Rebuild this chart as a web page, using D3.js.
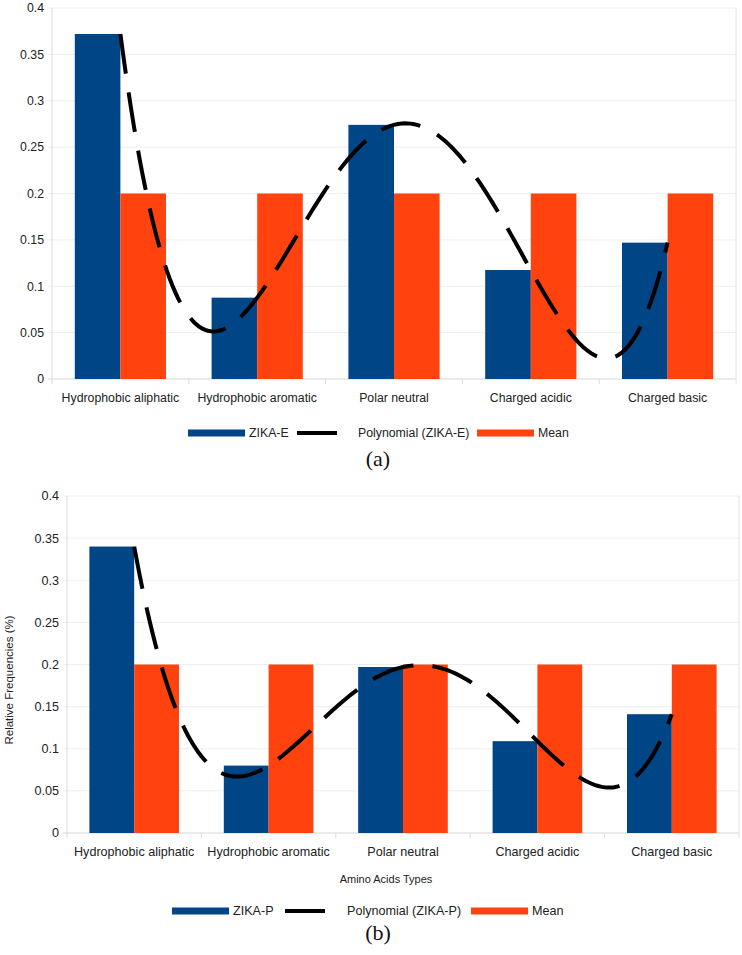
<!DOCTYPE html>
<html>
<head>
<meta charset="utf-8">
<script src="https://cdn.jsdelivr.net/npm/d3@7"></script>
<style>
  html, body { margin: 0; padding: 0; background: #fff; }
  svg { display: block; }
</style>
</head>
<body>
<svg id="chart" width="742" height="955"></svg>
<script>
// ---------- data ----------
const categories = ["Hydrophobic aliphatic", "Hydrophobic aromatic", "Polar neutral", "Charged acidic", "Charged basic"];
const zikaE = [0.372, 0.0877, 0.274, 0.1175, 0.147];
const meanE = [0.2, 0.2, 0.2, 0.2, 0.2];
const zikaP = [0.340, 0.080, 0.197, 0.109, 0.141];
const meanP = [0.2, 0.2, 0.2, 0.2, 0.2];
const yTicks = [0, 0.05, 0.1, 0.15, 0.2, 0.25, 0.3, 0.35, 0.4];
const yTickLabels = ["0", "0.05", "0.1", "0.15", "0.2", "0.25", "0.3", "0.35", "0.4"];
const legendE = ["ZIKA-E", "Polynomial (ZIKA-E)", "Mean"];
const legendP = ["ZIKA-P", "Polynomial (ZIKA-P)", "Mean"];

const BLUE = "#004586", ORANGE = "#ff420e";
const svg = d3.select("#chart");
const FONT = "'Liberation Sans', Arial, sans-serif";

// degree-4 polynomial trend line (exact fit through 5 points, Newton form)
function polyFit(ys) {
  const n = ys.length;
  const coef = ys.slice();
  for (let j = 1; j < n; j++)
    for (let i = n - 1; i >= j; i--)
      coef[i] = (coef[i] - coef[i - 1]) / j;
  return t => {
    let r = coef[n - 1];
    for (let i = n - 2; i >= 0; i--) r = r * (t - i) + coef[i];
    return r;
  };
}

function drawChart(o) {
  const g = svg.append("g");
  const x = d3.scaleBand().domain(categories).range([o.left, o.right]).padding(0);
  const y = d3.scaleLinear().domain([0, 0.4]).range([o.bottom, o.top]);
  const bw = x.bandwidth();
  const barW = bw / 3;
  const off = (bw - 2 * barW) / 2;

  // gridlines
  g.selectAll(".grid").data(yTicks).enter().append("line")
    .attr("x1", o.left - 4).attr("x2", o.right)
    .attr("y1", d => y(d)).attr("y2", d => y(d))
    .attr("stroke", d => d === 0 ? "#d6d6d6" : "#eeeeee").attr("stroke-width", 1);
  // y axis & right border
  g.append("line").attr("x1", o.left).attr("x2", o.left).attr("y1", o.top).attr("y2", o.bottom + 5)
    .attr("stroke", "#dcdcdc");
  g.append("line").attr("x1", o.right).attr("x2", o.right).attr("y1", o.top).attr("y2", o.bottom + 5)
    .attr("stroke", "#e4e4e4");
  // category separators (ticks)
  g.selectAll(".sep").data(categories.slice(1)).enter().append("line")
    .attr("x1", d => x(d)).attr("x2", d => x(d)).attr("y1", o.bottom).attr("y2", o.bottom + 5)
    .attr("stroke", "#dcdcdc");

  // y tick labels
  g.selectAll(".yl").data(yTicks).enter().append("text")
    .attr("x", o.left - 8).attr("y", d => y(d)).attr("dy", "0.35em")
    .attr("text-anchor", "end").attr("font-family", FONT).attr("font-size", o.fs)
    .attr("fill", "#222").text((d, i) => yTickLabels[i]);

  // bars
  g.selectAll(".b1").data(o.series).enter().append("rect")
    .attr("x", (d, i) => x(categories[i]) + off).attr("width", barW)
    .attr("y", d => y(d)).attr("height", d => y(0) - y(d)).attr("fill", BLUE);
  g.selectAll(".b2").data(o.mean).enter().append("rect")
    .attr("x", (d, i) => x(categories[i]) + off + barW).attr("width", barW)
    .attr("y", d => y(d)).attr("height", d => y(0) - y(d)).attr("fill", ORANGE);

  // polynomial trend line
  const f = polyFit(o.series);
  const xi = t => x(categories[0]) + bw / 2 + t * x.step();
  const pts = d3.range(0, 4.0001, 0.02).map(t => [xi(t), y(f(t))]);
  g.append("path").attr("d", d3.line()(pts)).attr("fill", "none")
    .attr("stroke", "#000").attr("stroke-width", 4)
    .attr("stroke-dasharray", o.dash);

  // category labels
  g.selectAll(".xl").data(categories).enter().append("text")
    .attr("x", d => x(d) + bw / 2).attr("y", o.labY)
    .attr("text-anchor", "middle").attr("font-family", FONT).attr("font-size", o.fs)
    .attr("fill", "#222").text(d => d);

  // legend
  const L = o.legend;
  const ly = L.y;
  g.append("rect").attr("x", L.x[0]).attr("y", ly - 3.5).attr("width", 57).attr("height", 7).attr("fill", BLUE);
  g.append("text").attr("x", L.x[0] + 61).attr("y", ly).attr("dy", "0.35em")
    .attr("font-family", FONT).attr("font-size", o.fs).attr("fill", "#222").text(L.names[0]);
  g.append("rect").attr("x", L.x[1]).attr("y", ly - 2).attr("width", 40).attr("height", 4).attr("fill", "#000");
  g.append("text").attr("x", L.x[2]).attr("y", ly).attr("dy", "0.35em")
    .attr("font-family", FONT).attr("font-size", o.fs).attr("fill", "#222").text(L.names[1]);
  g.append("rect").attr("x", L.x[3]).attr("y", ly - 3.5).attr("width", 57).attr("height", 7).attr("fill", ORANGE);
  g.append("text").attr("x", L.x[3] + 61).attr("y", ly).attr("dy", "0.35em")
    .attr("font-family", FONT).attr("font-size", o.fs).attr("fill", "#222").text(L.names[2]);

  // panel label
  g.append("text").attr("x", o.panel.x).attr("y", o.panel.y).attr("text-anchor", "middle")
    .attr("font-family", "'Liberation Serif', 'Times New Roman', serif").attr("font-size", 22)
    .attr("fill", "#111").text(o.panel.t);

  return {g, x, y};
}

drawChart({
  left: 52, right: 736, top: 8, bottom: 379, fs: 12.3, labY: 402, dash: "40,19",
  series: zikaE, mean: meanE,
  legend: {y: 433, x: [188, 297, 358, 477], names: legendE},
  panel: {x: 378, y: 466, t: "(a)"}
});

const b = drawChart({
  left: 67, right: 739, top: 496, bottom: 833, fs: 12.6, labY: 856, dash: "43,19",
  series: zikaP, mean: meanP,
  legend: {y: 911, x: [172, 285, 347, 471], names: legendP},
  panel: {x: 378, y: 940, t: "(b)"}
});

// axis titles for panel (b)
svg.append("text").attr("transform", "translate(13,680) rotate(-90)")
  .attr("text-anchor", "middle").attr("font-family", FONT).attr("font-size", 11.5)
  .attr("fill", "#222").text("Relative Frequencies (%)");
svg.append("text").attr("x", 386).attr("y", 883).attr("text-anchor", "middle")
  .attr("font-family", FONT).attr("font-size", 11).attr("fill", "#222").text("Amino Acids Types");
</script>
</body>
</html>
